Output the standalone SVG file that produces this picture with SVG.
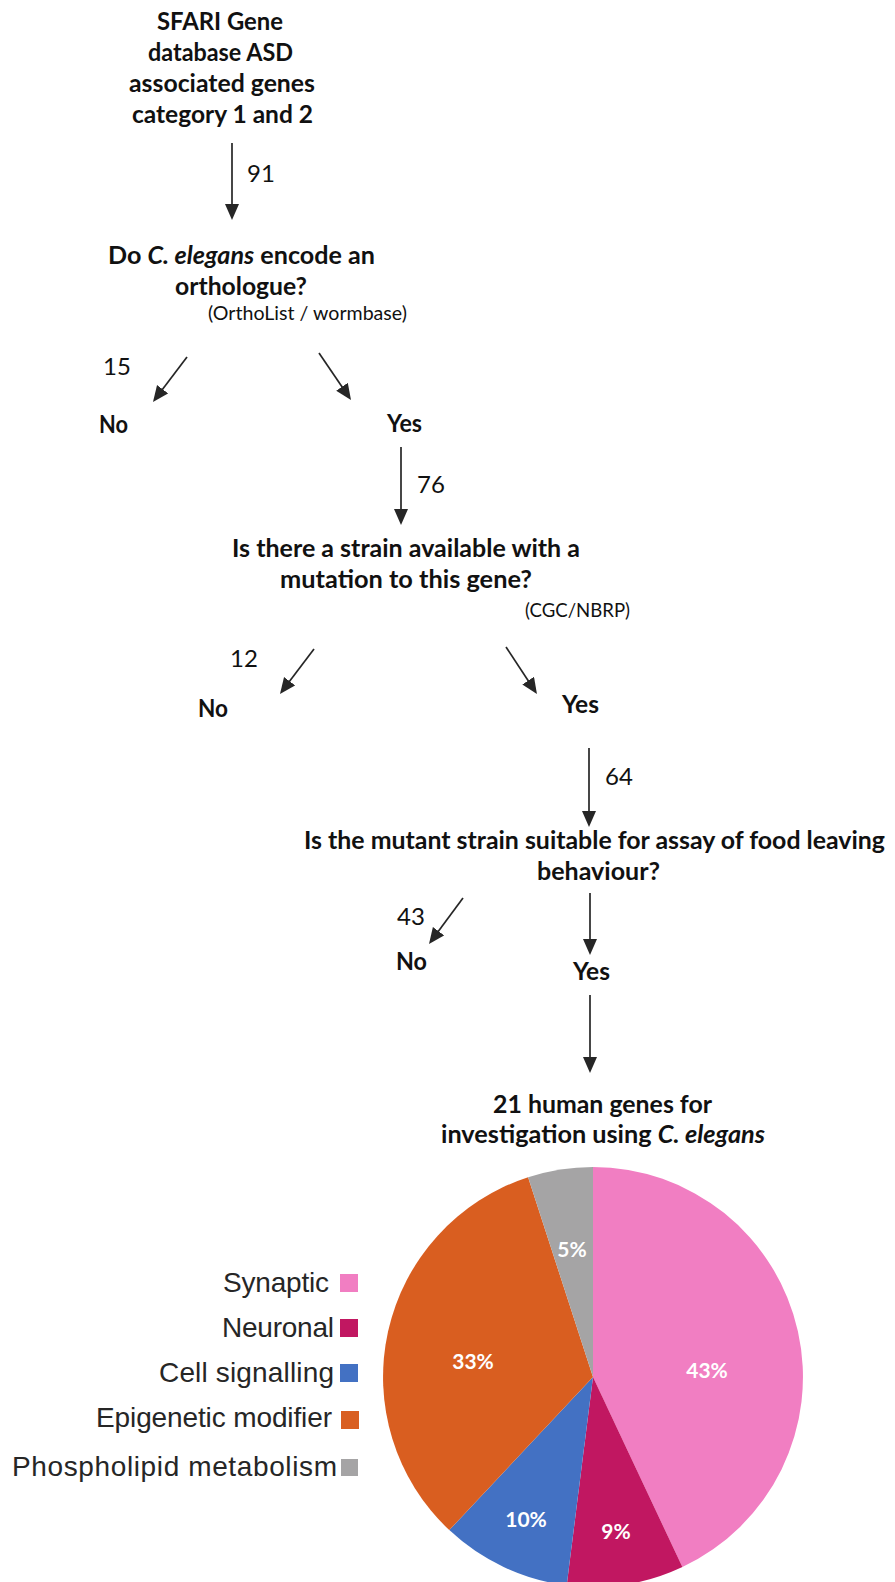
<svg xmlns="http://www.w3.org/2000/svg" width="895" height="1582" viewBox="0 0 895 1582">
<style>
.b{font-family:Lato,"Carlito","Liberation Sans",sans-serif;font-weight:700;font-size:25.5px;fill:#111}
.n{font-family:Lato,"Carlito","Liberation Sans",sans-serif;font-weight:400;font-size:24px;fill:#111}
.s{font-family:Lato,"Carlito","Liberation Sans",sans-serif;font-weight:400;font-size:19.5px;fill:#111}
.i{font-style:italic}
.lg{font-family:"Liberation Sans",Arial,sans-serif;font-size:28px;fill:#262626;text-anchor:end}
.pl{font-family:Lato,"Liberation Sans",sans-serif;font-weight:700;font-size:21px;fill:#fff;text-anchor:middle}
.c{stroke:#262626;stroke-width:1.7;fill:none;marker-end:url(#ah)}
</style>
<defs>
<marker id="ah" markerUnits="userSpaceOnUse" markerWidth="17" markerHeight="15" refX="13" refY="7" orient="auto">
<path d="M0,0 L16,7 L0,14 Z" fill="#262626"/>
</marker>
</defs>
<rect width="895" height="1582" fill="#fff"/>
<g id="connectors">
<line class="c" x1="232" y1="143" x2="232" y2="217"/>
<line class="c" x1="187" y1="357" x2="154.8" y2="399.6"/>
<line class="c" x1="319" y1="353" x2="349.3" y2="397.5"/>
<line class="c" x1="401" y1="447" x2="401" y2="522"/>
<line class="c" x1="314" y1="649" x2="281.8" y2="691.6"/>
<line class="c" x1="506" y1="647" x2="535.3" y2="691.5"/>
<line class="c" x1="589" y1="748" x2="589" y2="824"/>
<line class="c" x1="463" y1="898" x2="430.8" y2="941.6"/>
<line class="c" x1="590" y1="893" x2="590" y2="952"/>
<line class="c" x1="590" y1="995" x2="590" y2="1070"/>
</g>
<g id="node-sfari">
<text class="b" x="157" y="30" textLength="126" lengthAdjust="spacingAndGlyphs">SFARI Gene</text>
<text class="b" x="148" y="61" textLength="145" lengthAdjust="spacingAndGlyphs">database ASD</text>
<text class="b" x="129" y="92" textLength="186" lengthAdjust="spacingAndGlyphs">associated genes</text>
<text class="b" x="132" y="123" textLength="181" lengthAdjust="spacingAndGlyphs">category 1 and 2</text>
</g>
<g id="label-91"><text class="n" x="247" y="182">91</text></g>
<g id="node-orthologue">
<text class="b" x="108" y="264" textLength="267" lengthAdjust="spacingAndGlyphs">Do <tspan class="i">C. elegans</tspan> encode an</text>
<text class="b" x="175" y="295" textLength="132" lengthAdjust="spacingAndGlyphs">orthologue?</text>
<text class="s" x="208" y="320" textLength="199" lengthAdjust="spacingAndGlyphs">(OrthoList / wormbase)</text>
</g>
<g id="label-15"><text class="n" x="103" y="375">15</text></g>
<g id="node-no1"><text class="b" x="99" y="433" textLength="29" lengthAdjust="spacingAndGlyphs">No</text></g>
<g id="node-yes1"><text class="b" x="387" y="432" textLength="35" lengthAdjust="spacingAndGlyphs">Yes</text></g>
<g id="label-76"><text class="n" x="417" y="493">76</text></g>
<g id="node-strain">
<text class="b" x="232" y="557" textLength="348" lengthAdjust="spacingAndGlyphs">Is there a strain available with a</text>
<text class="b" x="280" y="588" textLength="252" lengthAdjust="spacingAndGlyphs">mutation to this gene?</text>
<text class="s" x="525" y="617" textLength="105" lengthAdjust="spacingAndGlyphs">(CGC/NBRP)</text>
</g>
<g id="label-12"><text class="n" x="230" y="667">12</text></g>
<g id="node-no2"><text class="b" x="198" y="717" textLength="30" lengthAdjust="spacingAndGlyphs">No</text></g>
<g id="node-yes2"><text class="b" x="562" y="713" textLength="37" lengthAdjust="spacingAndGlyphs">Yes</text></g>
<g id="label-64"><text class="n" x="605" y="785">64</text></g>
<g id="node-suitable">
<text class="b" x="304" y="849" textLength="581" lengthAdjust="spacingAndGlyphs" style="font-size:24px">Is the mutant strain suitable for assay of food leaving</text>
<text class="b" x="537" y="880" textLength="123" lengthAdjust="spacingAndGlyphs">behaviour?</text>
</g>
<g id="label-43"><text class="n" x="397" y="925">43</text></g>
<g id="node-no3"><text class="b" x="396" y="970" textLength="31" lengthAdjust="spacingAndGlyphs">No</text></g>
<g id="node-yes3"><text class="b" x="573" y="980" textLength="37" lengthAdjust="spacingAndGlyphs">Yes</text></g>
<g id="node-result">
<text class="b" x="493" y="1113" textLength="219" lengthAdjust="spacingAndGlyphs">21 human genes for</text>
<text class="b" x="441" y="1143" textLength="324" lengthAdjust="spacingAndGlyphs">investigation using <tspan class="i">C. elegans</tspan></text>
</g>
<g id="pie">
<path d="M593,1377 L593,1167 A210,210 0 0 1 682.4,1567 Z" fill="#F17EC2"/>
<path d="M593,1377 L682.4,1567 A210,210 0 0 1 566.7,1585.3 Z" fill="#C11761"/>
<path d="M593,1377 L566.7,1585.3 A210,210 0 0 1 449.3,1530.1 Z" fill="#4371C3"/>
<path d="M593,1377 L449.3,1530.1 A210,210 0 0 1 528.1,1177.3 Z" fill="#D95E20"/>
<path d="M593,1377 L528.1,1177.3 A210,210 0 0 1 593,1167 Z" fill="#A5A4A5"/>
<text class="pl" x="572" y="1257">5%</text>
<text class="pl" x="707" y="1378">43%</text>
<text class="pl" x="473" y="1369">33%</text>
<text class="pl" x="526" y="1527">10%</text>
<text class="pl" x="616" y="1539">9%</text>
</g>
<g id="legend">
<text class="lg" x="329" y="1292" textLength="106">Synaptic</text>
<rect x="340" y="1274" width="18" height="18" fill="#F17EC2"/>
<text class="lg" x="334" y="1337" textLength="112">Neuronal</text>
<rect x="340" y="1319" width="18" height="18" fill="#C11761"/>
<text class="lg" x="334" y="1382" textLength="175">Cell signalling</text>
<rect x="340" y="1364" width="18" height="18" fill="#4371C3"/>
<text class="lg" x="332" y="1427" textLength="236">Epigenetic modifier</text>
<rect x="341" y="1411" width="18" height="18" fill="#D95E20"/>
<text class="lg" x="337" y="1476" textLength="325">Phospholipid metabolism</text>
<rect x="341" y="1459" width="17" height="17" fill="#A5A4A5"/>
</g>
</svg>
